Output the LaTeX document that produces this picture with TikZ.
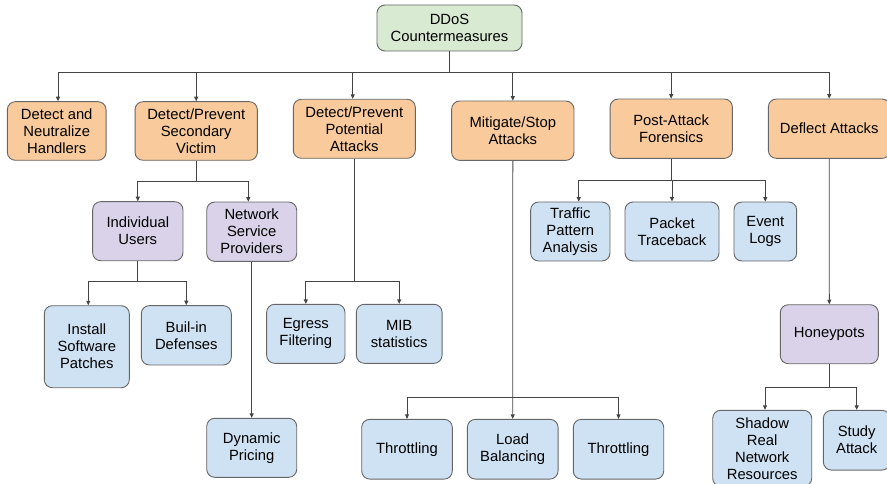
\documentclass[tikz,border=0pt]{standalone}
\usepackage{fontspec}
\setmainfont{Liberation Sans}
\usetikzlibrary{arrows.meta}
\definecolor{borderc}{HTML}{666666}
\definecolor{linec}{HTML}{444444}
\definecolor{orangef}{HTML}{F9CB9C}
\definecolor{greenf}{HTML}{D9EAD3}
\definecolor{purplef}{HTML}{D9D2E9}
\definecolor{bluef}{HTML}{CFE2F3}
\tikzset{
  box/.style={draw=borderc, line width=0.9pt, rounded corners=8pt, align=center,
    inner sep=0pt, font=\fontsize{14.8}{17}\selectfont, text=black},
  rootbox/.style={box, fill=greenf},
  obox/.style={box, fill=orangef},
  pbox/.style={box, fill=purplef},
  bbox/.style={box, fill=bluef},
  conn/.style={draw=linec, line width=0.9pt},
  arr/.style={conn, -{Triangle[length=4.5pt,width=4pt]}}
}
\begin{document}
\begin{tikzpicture}[x=1pt,y=-1pt]
\useasboundingbox (0,0) rectangle (887,484);
% root
\node[rootbox, minimum width=145pt, minimum height=46pt] (root) at (449.5,28) {DDoS\\Countermeasures};
% level 1
\node[obox, minimum width=98.7pt, minimum height=58.6pt] (n1) at (56.7,131) {Detect and\\Neutralize\\Handlers};
\node[obox, minimum width=122.3pt, minimum height=58.6pt] (n2) at (196.2,131) {Detect/Prevent\\Secondary\\Victim};
\node[obox, minimum width=122pt, minimum height=59pt] (n3) at (354.3,128.8) {Detect/Prevent\\Potential\\Attacks};
\node[obox, minimum width=122.3pt, minimum height=59.3pt] (n4) at (512.8,130.7) {Mitigate/Stop\\Attacks};
\node[obox, minimum width=122.3pt, minimum height=59.3pt] (n5) at (671.2,128.7) {Post-Attack\\Forensics};
\node[obox, minimum width=121.7pt, minimum height=59.3pt] (n6) at (829.2,128.7) {Deflect Attacks};
% level 2
\node[pbox, minimum width=90.3pt, minimum height=59pt] (iu) at (137.8,231.2) {Individual\\Users};
\node[pbox, minimum width=90pt, minimum height=59.3pt] (nsp) at (251.7,231.7) {Network\\Service\\Providers};
\node[bbox, minimum width=85pt, minimum height=82pt] (isp) at (86.8,346.7) {Install\\Software\\Patches};
\node[bbox, minimum width=90pt, minimum height=59.3pt] (bid) at (186.3,335.3) {Buil-in\\Defenses};
\node[bbox, minimum width=90pt, minimum height=59pt] (dp) at (251.7,447.8) {Dynamic\\Pricing};
\node[bbox, minimum width=78.3pt, minimum height=59pt] (eg) at (305.8,333.8) {Egress\\Filtering};
\node[bbox, minimum width=85.7pt, minimum height=59pt] (mib) at (399.2,333.8) {MIB\\statistics};
\node[bbox, minimum width=90.6pt, minimum height=59.7pt] (th1) at (407,449.2) {Throttling};
\node[bbox, minimum width=90.7pt, minimum height=59.7pt] (lb) at (512.7,449.2) {Load\\Balancing};
\node[bbox, minimum width=90.4pt, minimum height=59.7pt] (th2) at (618.5,449.2) {Throttling};
\node[bbox, minimum width=79.3pt, minimum height=59pt] (tpa) at (570.3,231.5) {Traffic\\Pattern\\Analysis};
\node[bbox, minimum width=94pt, minimum height=59pt] (pt) at (672,231.5) {Packet\\Traceback};
\node[bbox, minimum width=62.7pt, minimum height=59pt] (el) at (765.3,231.5) {Event\\Logs};
\node[pbox, minimum width=98pt, minimum height=59pt] (hp) at (829.3,334.2) {Honeypots};
\node[bbox, minimum width=99pt, minimum height=76pt] (srnr) at (762.2,448.3) {Shadow\\Real\\Network\\Resources};
\node[bbox, minimum width=66.7pt, minimum height=59.7pt] (sa) at (856.7,440.2) {Study\\Attack};
% connectors
\coordinate (b0) at (449.5,72);
\draw[conn] (root.south) -- (b0);
\draw[arr] (b0) -| ([xshift=1.3pt]n1.north);
\draw[arr] (b0) -| (n2.north);
\draw[arr] (b0) -| ([xshift=-1.6pt]n3.north);
\draw[arr] (b0) -| (n4.north);
\draw[arr] (b0) -| (n5.north);
\draw[arr] (b0) -| (n6.north);
% secondary victim
\coordinate (b1) at (196.2,181);
\draw[conn] (n2.south) -- (b1);
\draw[arr] (b1) -| (iu.north);
\draw[arr] (b1) -| ([xshift=-3.4pt]nsp.north);
% individual users
\coordinate (b2) at (137.8,281.3);
\draw[conn] (iu.south) -- (b2);
\draw[arr] (b2) -| ([xshift=1.5pt]isp.north);
\draw[arr] (b2) -| (bid.north);
% nsp
\draw[arr] (nsp.south) -- (dp.north);
% potential attacks
\coordinate (b3) at (354.3,281.3);
\draw[conn] (n3.south) -- (b3);
\draw[arr] (b3) -| (eg.north);
\draw[arr] (b3) -| (mib.north);
% mitigate
\coordinate (b4) at (512.8,397.3);
\draw[arr] (n4.south) -- (lb.north);
\draw[arr] (b4) -| (th1.north);
\draw[arr] (b4) -| (th2.north);
% forensics
\coordinate (b5) at (671.2,180.3);
\draw[conn] (n5.south) -- (b5);
\draw[arr] (b5) -| ([xshift=8.4pt]tpa.north);
\draw[arr] (b5) -| (pt.north);
\draw[arr] (b5) -| (el.north);
% deflect
\draw[arr] (n6.south) -- (hp.north);
\coordinate (b6) at (829.3,387.3);
\draw[conn] (hp.south) -- (b6);
\draw[arr] (b6) -| ([xshift=2.8pt]srnr.north);
\draw[arr] (b6) -| (sa.north);
\end{tikzpicture}
\end{document}
